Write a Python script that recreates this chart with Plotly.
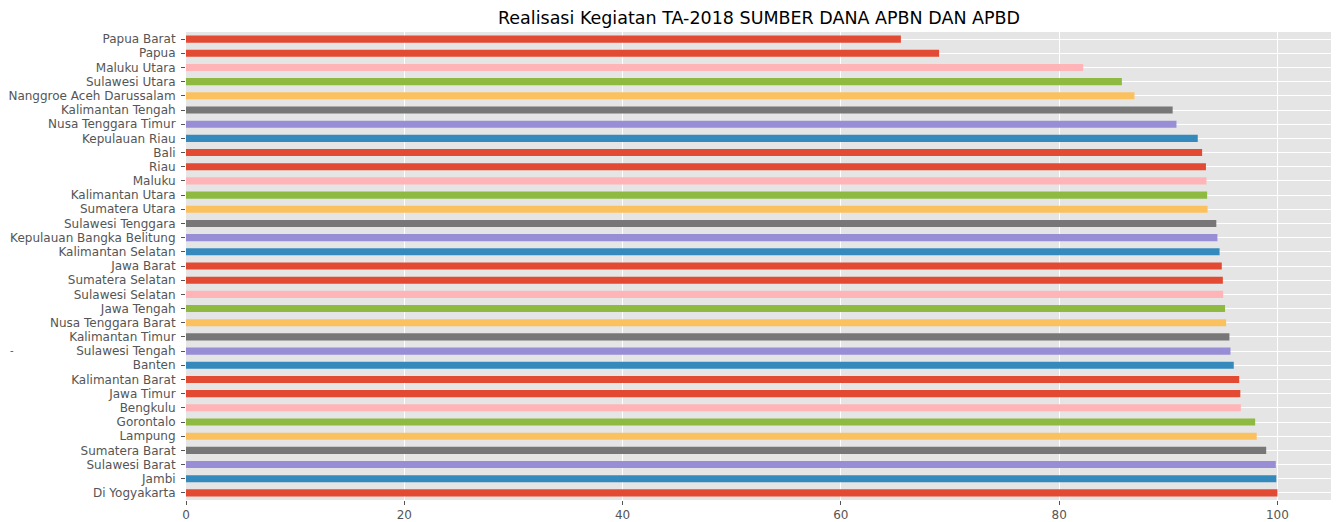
import plotly.graph_objects as go

# Categories listed bottom -> top
provinces = [
    "Di Yogyakarta", "Jambi", "Sulawesi Barat", "Sumatera Barat", "Lampung",
    "Gorontalo", "Bengkulu", "Jawa Timur", "Kalimantan Barat", "Banten",
    "Sulawesi Tengah", "Kalimantan Timur", "Nusa Tenggara Barat", "Jawa Tengah",
    "Sulawesi Selatan", "Sumatera Selatan", "Jawa Barat", "Kalimantan Selatan",
    "Kepulauan Bangka Belitung", "Sulawesi Tenggara", "Sumatera Utara",
    "Kalimantan Utara", "Maluku", "Riau", "Bali", "Kepulauan Riau",
    "Nusa Tenggara Timur", "Kalimantan Tengah", "Nanggroe Aceh Darussalam",
    "Sulawesi Utara", "Maluku Utara", "Papua", "Papua Barat",
]
realisasi = [
    100.0, 99.9, 99.85, 98.97, 98.1,
    97.96, 96.65, 96.6, 96.5, 96.0,
    95.7, 95.6, 95.3, 95.2,
    95.03, 95.0, 94.9, 94.7,
    94.5, 94.4, 93.6,
    93.56, 93.5, 93.45, 93.1, 92.7,
    90.75, 90.4, 86.9,
    85.75, 82.2, 69.0, 65.5,
]
title_text = "Realisasi Kegiatan TA-2018 SUMBER DANA APBN DAN APBD"
x_ticks = [0, 20, 40, 60, 80, 100]

palette = ["#E24A33", "#348ABD", "#988ED5", "#777777",
           "#FBC15E", "#8EBA42", "#FFB5B8", "#E24A33"]
bar_colors = [palette[i % len(palette)] for i in range(len(provinces))]

fig = go.Figure(go.Bar(
    x=realisasi, y=provinces, orientation="h",
    marker=dict(color=bar_colors, line=dict(width=0)),
    width=0.5,
))

# The page body has an 8px default margin, so the figure is sized to fit.
W, H = 1331, 514
ML, MR, MT, MB = 178, 7, 24, 22
PW, PH = W - ML - MR, H - MT - MB
font_family = "DejaVu Sans"
fig.update_layout(
    width=W, height=H,
    margin=dict(l=ML, r=MR, t=MT, b=MB, pad=0, autoexpand=False),
    paper_bgcolor="white", plot_bgcolor="#E5E5E5",
    showlegend=False,
    font=dict(family=font_family, size=12, color="#555555"),
    title=dict(text=title_text, x=0.5, xanchor="center",
               xref="paper", y=1 - 10 / H, yanchor="middle", automargin=False,
               font=dict(family=font_family, size=17.5, color="black")),
    annotations=[dict(text="-", x=-ML / PW, y=1 - (342 - MT) / PH,
                      xref="paper", yref="paper",
                      showarrow=False, xanchor="left", yanchor="middle",
                      font=dict(family=font_family, size=10, color="#555555"))],
)
fig.update_xaxes(
    range=[0, 105], tickvals=x_ticks, showgrid=True, gridcolor="white", gridwidth=1,
    zeroline=False, ticks="outside", ticklen=4, tickcolor="#555555", tickwidth=1,
    showline=False, tickfont=dict(size=12, color="#555555"), automargin=False,
)
fig.update_yaxes(
    categoryorder="array", categoryarray=provinces, range=[-0.5, len(provinces) - 0.5],
    tickmode="array", tickvals=provinces, ticktext=provinces,
    showgrid=True, gridcolor="white", gridwidth=1, zeroline=False,
    ticks="outside", ticklen=4, tickcolor="#555555", tickwidth=1,
    showline=False, tickfont=dict(size=12, color="#555555"), automargin=False,
    ticklabelstandoff=3,
)

fig.write_html("out.html")
